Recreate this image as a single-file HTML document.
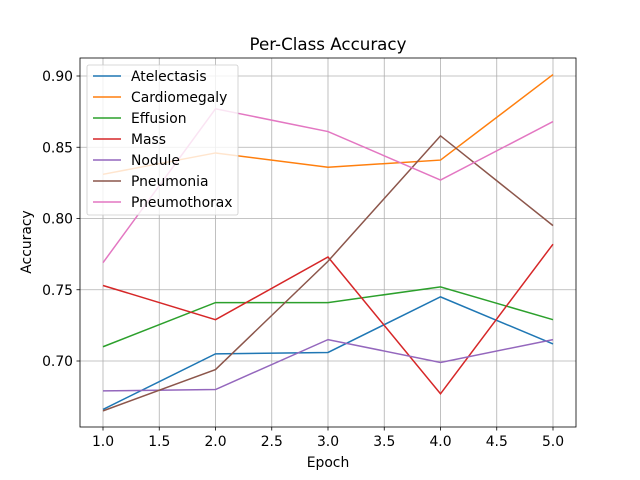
<!DOCTYPE html>
<html><head><meta charset="utf-8"><style>body{margin:0;background:#fff}svg{display:block;font-family:"DejaVu Sans","Liberation Sans",sans-serif}</style></head>
<body>
<svg id="chart" width="640" height="480">
<rect x="0" y="0" width="640" height="480" fill="#fff"/>
<g id="grid"></g>
<g id="ticks"></g>
<g id="lines"></g>
<rect x="80" y="58" width="496" height="369" fill="none" stroke="#000" stroke-width="0.8"/>
<text x="328" y="50" text-anchor="middle" font-size="16.7">Per-Class Accuracy</text>
<text x="328" y="467" text-anchor="middle" font-size="13.9">Epoch</text>
<text x="31" y="242" text-anchor="middle" font-size="13.9" transform="rotate(-90 31 242)">Accuracy</text>
<g id="legend"></g>
</svg>
<script>
const epochs=[1,2,3,4,5];
const classNames=["Atelectasis","Cardiomegaly","Effusion","Mass","Nodule","Pneumonia","Pneumothorax"];
const atelectasis=[0.666,0.705,0.706,0.745,0.712];
const cardiomegaly=[0.831,0.846,0.836,0.841,0.901];
const effusion=[0.710,0.741,0.741,0.752,0.729];
const mass=[0.753,0.729,0.773,0.677,0.782];
const nodule=[0.679,0.680,0.715,0.699,0.715];
const pneumonia=[0.665,0.694,0.770,0.858,0.795];
const pneumothorax=[0.769,0.877,0.861,0.827,0.868];
const xTicks=[1.0,1.5,2.0,2.5,3.0,3.5,4.0,4.5,5.0];
const yTicks=[0.70,0.75,0.80,0.85,0.90];
const colors=["#1f77b4","#ff7f0e","#2ca02c","#d62728","#9467bd","#8c564b","#e377c2"];
const series=[atelectasis,cardiomegaly,effusion,mass,nodule,pneumonia,pneumothorax];
const NS="http://www.w3.org/2000/svg";
const xs=v=>103+(v-1)*112.5;
const ys=v=>361-(v-0.70)*1425;
function mk(p,t,a){const e=document.createElementNS(NS,t);for(const k in a)e.setAttribute(k,a[k]);p.appendChild(e);return e;}
const grid=document.getElementById('grid'),ticks=document.getElementById('ticks'),lines=document.getElementById('lines'),legend=document.getElementById('legend');
xTicks.forEach(t=>{const x=xs(t);
const g=mk(grid,'line',{x1:x,x2:x,y1:58,y2:427,stroke:'#b0b0b0','stroke-width':0.8});

mk(ticks,'line',{x1:x,x2:x,y1:427,y2:430.5,stroke:'#000','stroke-width':0.8});
const tx=mk(ticks,'text',{x:x,y:446,'text-anchor':'middle','font-size':13.9});tx.textContent=t.toFixed(1);
});
yTicks.forEach(t=>{const y=ys(t);
const g=mk(grid,'line',{x1:80,x2:576,y1:y,y2:y,stroke:'#b0b0b0','stroke-width':0.8});

mk(ticks,'line',{x1:76.5,x2:80,y1:y,y2:y,stroke:'#000','stroke-width':0.8});
const tx=mk(ticks,'text',{x:73,y:y+5,'text-anchor':'end','font-size':13.9});tx.textContent=t.toFixed(2);
});
series.forEach((s,i)=>{const pts=s.map((v,j)=>xs(epochs[j])+','+ys(v)).join(' ');
const l=mk(lines,'polyline',{points:pts,fill:'none',stroke:colors[i],'stroke-width':1.5});
});
const lb=mk(legend,'rect',{x:87,y:65,width:151,height:150,rx:2,fill:'#fff','fill-opacity':0.8,stroke:'#ccc','stroke-width':0.8});

classNames.forEach((n,i)=>{const y=76+i*21;
mk(legend,'line',{x1:93,x2:121,y1:y,y2:y,stroke:colors[i],'stroke-width':1.5});
const t=mk(legend,'text',{x:131,y:y+5,'font-size':13.9});t.textContent=n;
});
</script>
</body></html>
